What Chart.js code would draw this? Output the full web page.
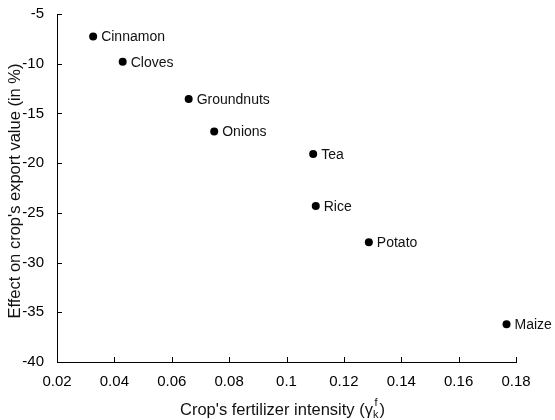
<!DOCTYPE html>
<html>
<head>
<meta charset="utf-8">
<script src="https://cdn.jsdelivr.net/npm/chart.js@4/dist/chart.umd.min.js"></script>
<style>
  html, body { margin: 0; padding: 0; background: #fff; }
  #wrap { width: 555px; height: 420px; }
</style>
</head>
<body>
<div id="wrap"><canvas id="c" width="555" height="420"></canvas></div>
<script>
// Crops and their values
const crops = ['Cinnamon', 'Cloves', 'Groundnuts', 'Onions', 'Tea', 'Rice', 'Potato', 'Maize'];
const fertilizerIntensity = [0.0326, 0.0429, 0.0659, 0.0748, 0.1093, 0.1102, 0.1287, 0.1767];
const exportEffect = [-7.26, -9.8, -13.56, -16.82, -19.07, -24.3, -27.96, -36.2];

// Axis ticks
const xTickValues = [0.02, 0.04, 0.06, 0.08, 0.1, 0.12, 0.14, 0.16, 0.18];
const xTickLabels = ['0.02', '0.04', '0.06', '0.08', '0.1', '0.12', '0.14', '0.16', '0.18'];
const yTickValues = [-40, -35, -30, -25, -20, -15, -10, -5];
const yTickLabels = ['-40', '-35', '-30', '-25', '-20', '-15', '-10', '-5'];

const FONT = '"Liberation Sans", Arial, Helvetica, sans-serif';

const points = fertilizerIntensity.map((x, i) => ({ x: x, y: exportEffect[i] }));

// Inward tick marks, point labels and axis titles
const decorations = {
  id: 'decorations',
  afterDraw(chart) {
    const ctx = chart.ctx;
    const xs = chart.scales.x, ys = chart.scales.y;
    const area = chart.chartArea;
    ctx.save();
    ctx.strokeStyle = '#000';
    ctx.lineWidth = 1;
    ctx.beginPath();
    xTickValues.forEach(v => {
      const px = Math.round(xs.getPixelForValue(v)) + 0.5;
      ctx.moveTo(px, area.bottom);
      ctx.lineTo(px, area.bottom - 5);
    });
    yTickValues.forEach(v => {
      const py = Math.round(ys.getPixelForValue(v)) + 0.5;
      ctx.moveTo(area.left, py);
      ctx.lineTo(area.left + 5, py);
    });
    ctx.stroke();

    // crop names beside each dot
    ctx.fillStyle = '#111';
    ctx.font = '14px ' + FONT;
    ctx.textAlign = 'left';
    ctx.textBaseline = 'middle';
    const meta = chart.getDatasetMeta(0);
    meta.data.forEach((el, i) => {
      ctx.fillText(crops[i], el.x + 8, el.y + 1);
    });

    // y axis title
    ctx.font = '16.5px ' + FONT;
    ctx.textAlign = 'center';
    ctx.textBaseline = 'middle';
    ctx.save();
    ctx.translate(15, 191);
    ctx.rotate(-Math.PI / 2);
    ctx.fillText("Effect on crop's export value (in %)", 0, 0);
    ctx.restore();

    // x axis title with gamma, superscript f and subscript k
    const main = "Crop's fertilizer intensity (";
    const gamma = 'γ';
    const close = ')';
    ctx.font = '16.5px ' + FONT;
    const wMain = ctx.measureText(main).width;
    const wGamma = ctx.measureText(gamma).width;
    let x0 = 180;
    const base = 415;
    ctx.textAlign = 'left';
    ctx.textBaseline = 'alphabetic';
    ctx.fillText(main, x0, base);
    x0 += wMain;
    ctx.fillText(gamma, x0, base);
    x0 += wGamma;
    ctx.font = '11px ' + FONT;
    const wScript = ctx.measureText('k').width;
    ctx.fillText('f', x0 + 1.5, base - 9);
    ctx.fillText('k', x0, base + 3);
    x0 += wScript + 1;
    ctx.font = '16.5px ' + FONT;
    ctx.fillText(close, x0, base);
    ctx.restore();
  }
};

new Chart(document.getElementById('c'), {
  type: 'scatter',
  data: {
    datasets: [{
      data: points,
      backgroundColor: '#000',
      borderColor: '#000',
      borderWidth: 0,
      pointRadius: 4,
      pointHoverRadius: 4
    }]
  },
  options: {
    responsive: false,
    animation: false,
    events: [],
    layout: { padding: { top: 14, right: 39, bottom: 0, left: 0 } },
    plugins: { legend: { display: false }, tooltip: { enabled: false } },
    scales: {
      x: {
        type: 'linear',
        min: 0.02,
        max: 0.18,
        grid: { display: false },
        border: { display: true, color: '#000', width: 1 },
        afterBuildTicks(scale) { scale.ticks = xTickValues.map(v => ({ value: v })); },
        afterFit(scale) { scale.height = 58; },
        ticks: {
          autoSkip: false,
          maxRotation: 0,
          padding: 3,
          color: '#000',
          font: { family: FONT, size: 15 },
          callback(value, index) { return xTickLabels[index]; }
        }
      },
      y: {
        type: 'linear',
        min: -40,
        max: -5,
        grid: { display: false },
        border: { display: true, color: '#000', width: 1 },
        afterBuildTicks(scale) { scale.ticks = yTickValues.map(v => ({ value: v })); },
        afterFit(scale) { scale.width = 57; },
        ticks: {
          autoSkip: false,
          padding: 5,
          color: '#000',
          font: { family: FONT, size: 15 },
          callback(value, index) { return yTickLabels[index]; }
        }
      }
    }
  },
  plugins: [decorations]
});
</script>
</body>
</html>
